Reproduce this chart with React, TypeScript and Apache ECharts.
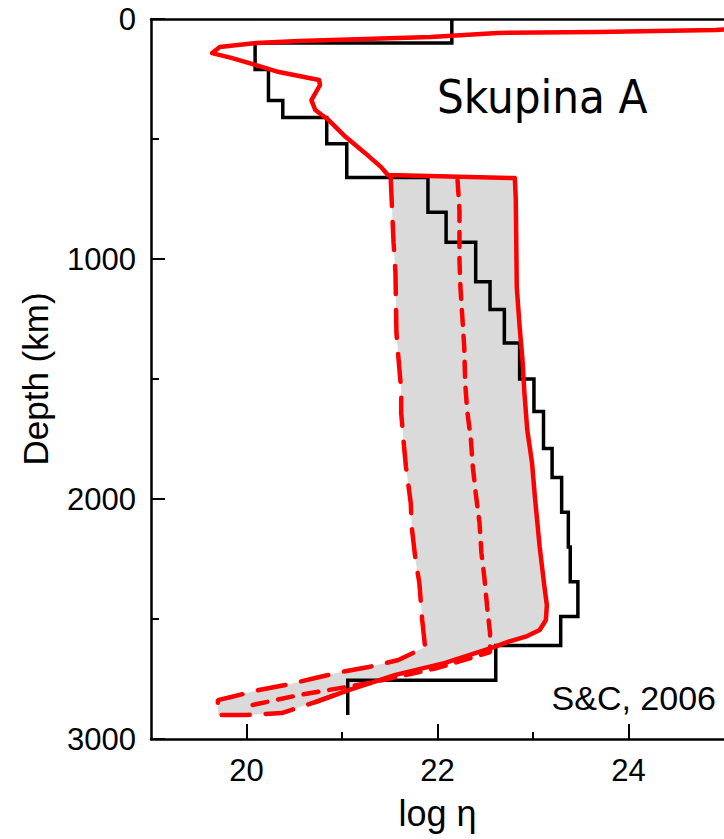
import React, { useEffect, useRef } from "react";
import * as echarts from "echarts";

// Black step profile: layer boundaries (km) and log viscosity per layer
const layerDepths = [0, 100, 210, 340, 410, 520, 660, 805, 930, 1095, 1210, 1350, 1500, 1635, 1790, 1910, 2055, 2200, 2345, 2490, 2610, 2755, 2900];
const layerLogEta = [22.15, 20.09, 20.23, 20.38, 20.84, 21.05, 21.9, 22.09, 22.4, 22.55, 22.7, 22.86, 23.01, 23.11, 23.2, 23.3, 23.37, 23.39, 23.47, 23.29, 22.61, 21.06];

// Red solid curve (upper mantle profile + upper bound of the band)
const solidLogEta = [25.0, 24.91, 23.67, 22.63, 21.93, 21.24, 20.55, 20.1, 19.72, 19.64, 19.85, 20.1, 20.34, 20.76, 20.77, 20.68, 20.72, 20.86, 21.04, 21.24, 21.41, 21.48, 22.81, 22.82, 22.83, 22.86, 22.89, 22.91, 22.94, 22.99, 23.02, 23.07, 23.12, 23.145, 23.135, 23.07, 22.94, 22.73, 22.59, 22.08, 21.56, 21.07, 20.72];
const solidDepth = [44, 46, 54, 58, 75, 83, 92, 100, 117, 142, 163, 192, 221, 254, 275, 338, 379, 421, 492, 558, 617, 650, 663, 754, 1117, 1283, 1421, 1558, 1713, 1850, 1992, 2200, 2367, 2442, 2504, 2546, 2571, 2596, 2617, 2683, 2733, 2796, 2846];

// Upper bound of the band (from 660 km down)
const upperLogEta = [22.81, 22.82, 22.83, 22.86, 22.89, 22.91, 22.94, 22.99, 23.02, 23.07, 23.12, 23.145, 23.135, 23.07, 22.94, 22.73, 22.59, 22.08, 21.56, 21.07, 20.72, 20.37, 20.0];
const upperDepth = [663, 754, 1117, 1283, 1421, 1558, 1713, 1850, 1992, 2200, 2367, 2442, 2504, 2546, 2571, 2596, 2617, 2683, 2733, 2796, 2846, 2892, 2900];

// Lower bound of the band (long dashes)
const lowerLogEta = [21.51, 21.54, 21.56, 21.57, 21.59, 21.62, 21.62, 21.65, 21.67, 21.72, 21.73, 21.77, 21.81, 21.84, 21.87, 21.59, 21.28, 20.99, 20.72, 20.41, 20.13, 19.84, 19.7, 19.7];
const lowerDepth = [663, 933, 1058, 1308, 1408, 1546, 1642, 1783, 1867, 2017, 2117, 2254, 2350, 2504, 2617, 2671, 2700, 2721, 2746, 2775, 2796, 2825, 2838, 2900];

// Median curve (short dashes)
const medianLogEta = [22.21, 22.23, 22.23, 22.24, 22.26, 22.28, 22.29, 22.31, 22.35, 22.37, 22.4, 22.44, 22.46, 22.49, 22.52, 22.55, 22.55, 22.0, 21.28, 20.55, 19.96];
const medianDepth = [671, 796, 1004, 1117, 1242, 1367, 1517, 1629, 1754, 1867, 1975, 2100, 2225, 2325, 2450, 2558, 2638, 2704, 2767, 2817, 2867];

const xMajorTicks = [20, 22, 24];
const xMinorTicks = [21, 23];

const zip = (xs: number[], ys: number[]) => xs.map((x, i) => [x, ys[i]]);

export default function App() {
  const ref = useRef<HTMLDivElement>(null);
  useEffect(() => {
    if (!ref.current) return;
    const chart = echarts.init(ref.current, null, { renderer: "svg" });

    const stepPts: number[][] = [];
    layerLogEta.forEach((v, i) => {
      stepPts.push([v, layerDepths[i]]);
      stepPts.push([v, layerDepths[i + 1]]);
    });

    const lowerPts = zip(lowerLogEta, lowerDepth);
    const upperPts = zip(upperLogEta, upperDepth);
    const bandPts = lowerPts.concat(upperPts.slice().reverse());

    // long dashes: lower bound then along the bottom and up the lower edge
    const longDashPts = lowerPts.concat(
      zip(upperLogEta.slice(-4).reverse(), upperDepth.slice(-4).reverse())
    );

    const font = "'Liberation Sans', Arial, sans-serif";
    const axisLineStyle = { color: "#000", width: 2.5 };
    const tickStyle = { color: "#000", width: 2 };

    chart.setOption({
      animation: false,
      backgroundColor: "#fff",
      grid: { left: 151, top: 19, right: -4.5, bottom: 100, containLabel: false },
      xAxis: [
        {
          type: "value",
          min: 19,
          max: 25,
          position: "bottom",
          axisLine: { show: true, onZero: false, lineStyle: axisLineStyle },
          axisTick: { show: true, inside: true, length: 15, customValues: xMajorTicks, lineStyle: tickStyle },
          axisLabel: { customValues: xMajorTicks, fontSize: 31, fontFamily: font, color: "#000", margin: 16, formatter: (v: number) => String(v) },
          splitLine: { show: false },
          name: "log η",
          nameLocation: "middle",
          nameGap: 56,
          nameTextStyle: { fontSize: 36, fontFamily: font, color: "#000" },
        },
        {
          type: "value",
          min: 19,
          max: 25,
          position: "bottom",
          axisLine: { show: false, onZero: false },
          axisTick: { show: true, inside: true, length: 7, customValues: xMinorTicks, lineStyle: tickStyle },
          axisLabel: { show: false },
          splitLine: { show: false },
        },
        {
          type: "value",
          min: 19,
          max: 25,
          position: "top",
          axisLine: { show: true, onZero: false, lineStyle: axisLineStyle },
          axisTick: { show: false },
          axisLabel: { show: false },
          splitLine: { show: false },
        },
      ],
      yAxis: {
        type: "value",
        inverse: true,
        min: 0,
        max: 3000,
        interval: 1000,
        axisLine: { show: true, onZero: false, lineStyle: axisLineStyle },
        axisTick: { show: true, inside: true, length: 14, lineStyle: tickStyle },
        minorTick: { show: true, splitNumber: 2, length: 8, lineStyle: tickStyle },
        axisLabel: { fontSize: 31, fontFamily: font, color: "#000", margin: 15, formatter: (v: number) => String(v) },
        splitLine: { show: false },
        minorSplitLine: { show: false },
        name: "Depth (km)",
        nameLocation: "middle",
        nameGap: 98,
        nameTextStyle: { fontSize: 35, fontFamily: font, color: "#000" },
      },
      series: [
        {
          type: "custom",
          silent: true,
          clip: true,
          data: [[lowerLogEta[0], lowerDepth[0]]],
          renderItem: (params: any, api: any) => {
            const pts = bandPts.map((p) => api.coord(p));
            return { type: "polygon", shape: { points: pts }, style: { fill: "#dadada", stroke: "none" } };
          },
          z: 1,
        },
        {
          type: "line",
          data: stepPts,
          showSymbol: false,
          symbol: "none",
          lineStyle: { color: "#000", width: 3.5, join: "miter" },
          z: 2,
        },
        {
          type: "line",
          data: longDashPts,
          symbol: "none",
          lineStyle: { color: "#ff0000", width: 4.5, type: [28, 16], cap: "round" },
          z: 3,
        },
        {
          type: "line",
          data: zip(medianLogEta, medianDepth),
          symbol: "none",
          lineStyle: { color: "#ff0000", width: 4.5, type: [15, 11], cap: "round" },
          z: 3,
        },
        {
          type: "line",
          data: zip(solidLogEta, solidDepth),
          symbol: "none",
          clip: true,
          lineStyle: { color: "#ff0000", width: 4.5, cap: "round", join: "round" },
          z: 4,
        },
      ],
      graphic: [
        {
          type: "text",
          left: 437,
          top: 73,
          style: {
            text: "Skupina A",
            fontSize: 47,
            fontFamily: "'DejaVu Sans Condensed', 'DejaVu Sans', sans-serif",
            fill: "#000",
          },
          z: 10,
        },
        {
          type: "text",
          right: 8,
          top: 681,
          style: {
            text: "S&C, 2006",
            fontSize: 34,
            fontFamily: font,
            fill: "#000",
          },
          z: 10,
        },
      ],
    });
    return () => chart.dispose();
  }, []);
  return (
    <div
      ref={ref}
      style={{ position: "fixed", left: 0, top: 0, width: 724, height: 839, background: "#fff" }}
    />
  );
}
